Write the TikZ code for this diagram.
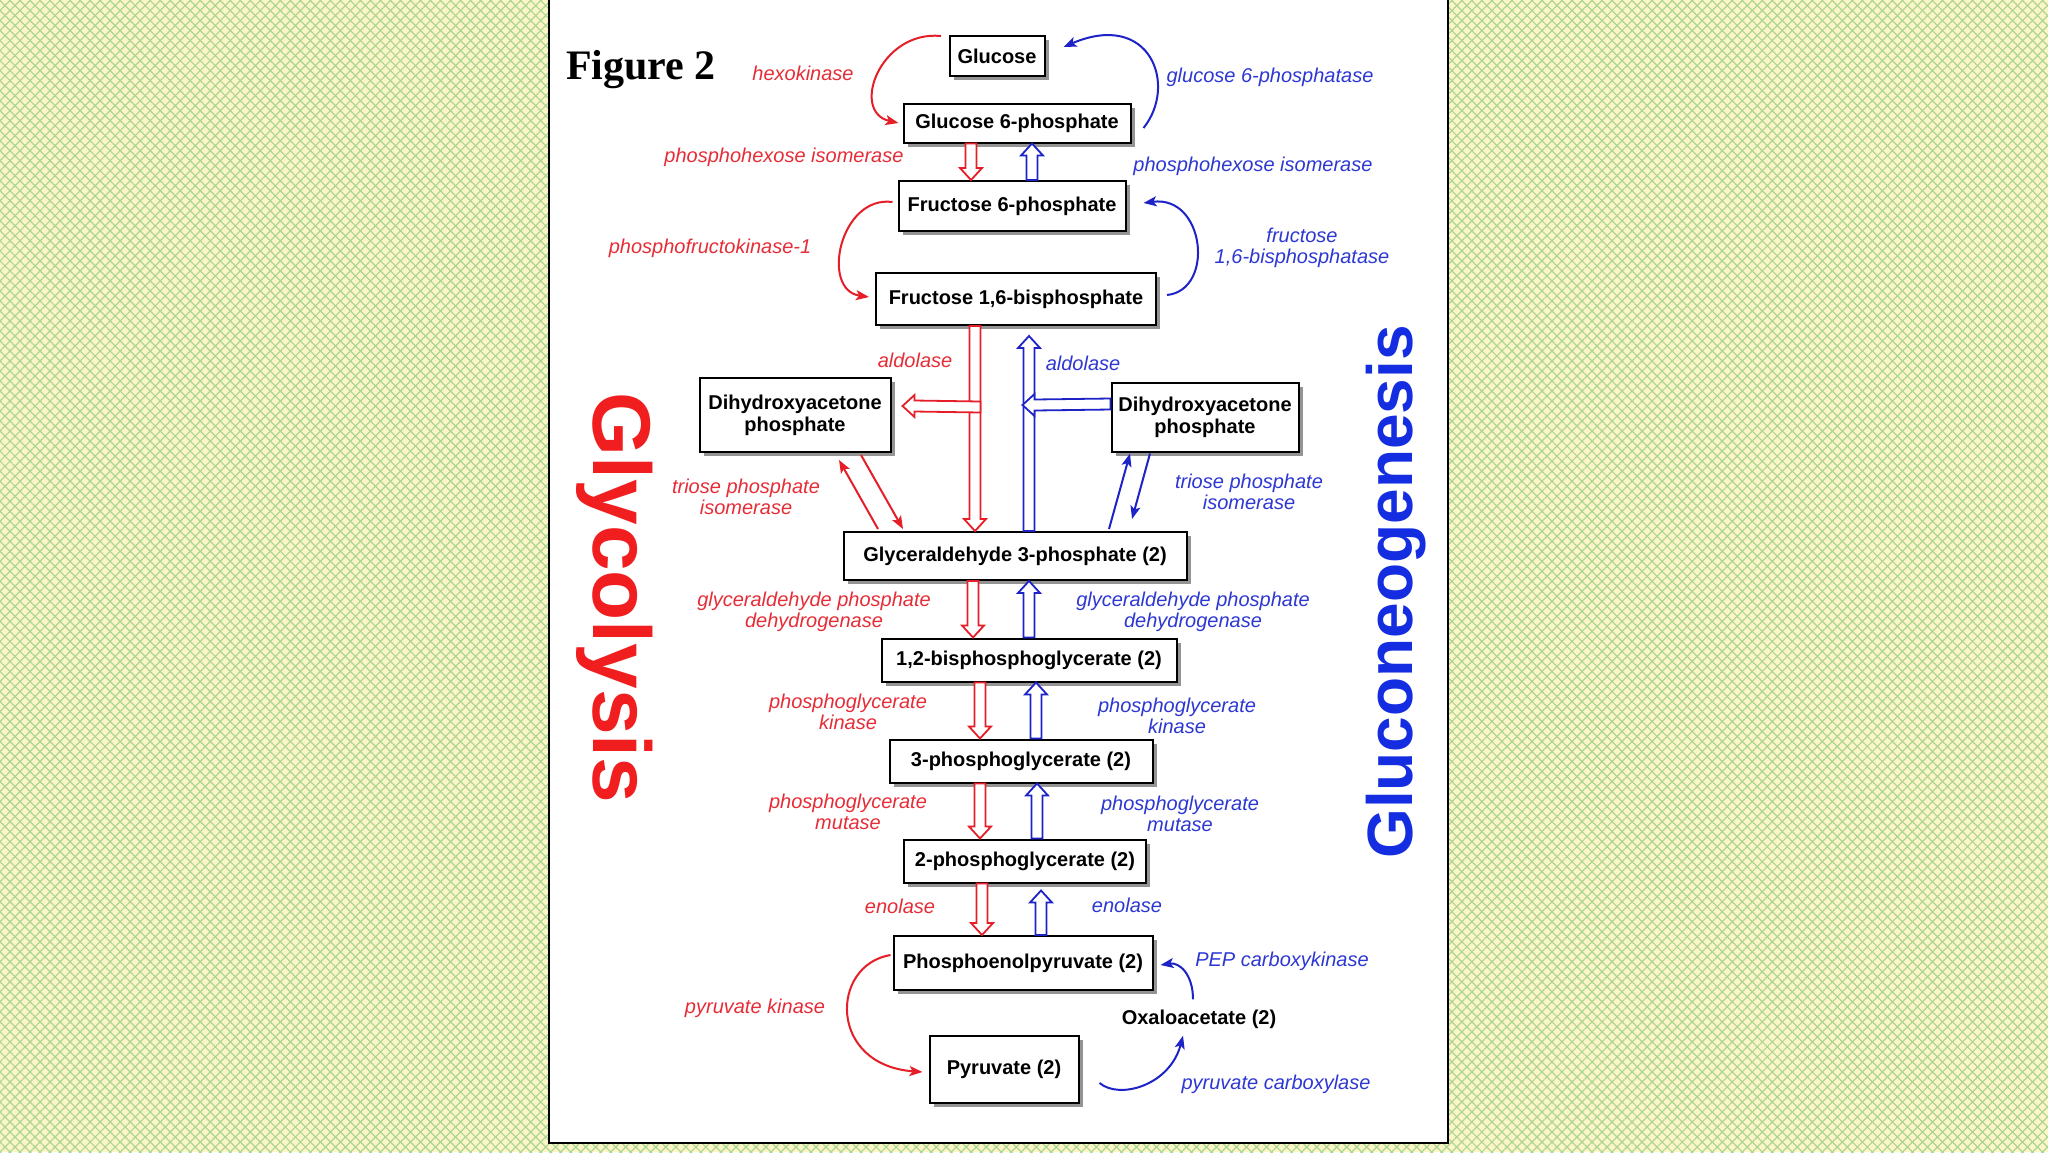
\documentclass[tikz,border=0pt]{standalone}
\usepackage{fontspec}
\setmainfont{Liberation Sans}
\newfontfamily\serifbold{Liberation Serif}
\usetikzlibrary{calc,arrows.meta,shadows,patterns.meta}
\definecolor{bgyel}{RGB}{252,245,202}
\definecolor{bggrn}{RGB}{172,214,142}
\definecolor{rd}{RGB}{230,30,40}
\definecolor{bl}{RGB}{30,35,200}
\definecolor{rdl}{RGB}{230,45,55}
\definecolor{bll}{RGB}{45,55,210}
\definecolor{bigred}{RGB}{240,30,30}
\definecolor{bigblue}{RGB}{20,45,225}
\begin{document}
\begin{tikzpicture}[x=0.5pt,y=-0.5pt,
  box/.style={draw=black, line width=1pt, fill=white,
    font=\bfseries\fontsize{10}{11}\selectfont, align=center, inner sep=2pt,
    general shadow={fill=black!42, shadow xshift=2.2pt, shadow yshift=-2.2pt}},
  lab/.style={font=\itshape\fontsize{10}{10.5}\selectfont, align=center, inner sep=0pt},
  rlab/.style={lab, text=rdl},
  blab/.style={lab, text=bll},
  thin/.style={line width=1pt, -{Stealth[length=6.5pt,width=5pt,inset=1.5pt]}},
  hollow/.style={line width=0.9pt, fill=white, line join=miter},
  hdown/.style={hollow, to path={($(\tikztostart)+(-5.5,0)$) -- ($(\tikztotarget)+(-5.5,-12)$) -- ($(\tikztotarget)+(-11,-12)$) -- (\tikztotarget) -- ($(\tikztotarget)+(11,-12)$) -- ($(\tikztotarget)+(5.5,-12)$) -- ($(\tikztostart)+(5.5,0)$) -- cycle}},
  hup/.style={hollow, to path={($(\tikztostart)+(-5.5,0)$) -- ($(\tikztotarget)+(-5.5,12)$) -- ($(\tikztotarget)+(-11,12)$) -- (\tikztotarget) -- ($(\tikztotarget)+(11,12)$) -- ($(\tikztotarget)+(5.5,12)$) -- ($(\tikztostart)+(5.5,0)$) -- cycle}},
  hleft/.style={hollow, to path={($(\tikztostart)+(0,-5.5)$) -- ($(\tikztotarget)+(12,-5.5)$) -- ($(\tikztotarget)+(12,-11)$) -- (\tikztotarget) -- ($(\tikztotarget)+(12,11)$) -- ($(\tikztotarget)+(12,5.5)$) -- ($(\tikztostart)+(0,5.5)$) -- cycle}}
]
\useasboundingbox (0,0) rectangle (2048,1152);
% background
\fill[bgyel] (0,0) rectangle (2048,1152);
\fill[pattern={Lines[angle=45,distance=3.54pt,line width=0.6pt]}, pattern color=bggrn] (0,0) rectangle (2048,1152);
\fill[pattern={Lines[angle=-45,distance=3.54pt,line width=0.6pt]}, pattern color=bggrn] (0,0) rectangle (2048,1152);
\draw[line width=1pt, fill=white] (549,-5) rectangle (1448,1143);

% title and big labels
\node[font=\serifbold\bfseries\fontsize{21}{24}\selectfont, anchor=base, inner sep=0pt] (fig) at (641,79) {Figure 2};
\node[font=\bfseries\fontsize{41}{44}\selectfont, text=bigred, rotate=-90, inner sep=0pt] (glyc) at (615,598) {Glycolysis};
\node[font=\bfseries\fontsize{32}{36}\selectfont, text=bigblue, rotate=90, inner sep=0pt] (gng) at (1396,592) {Gluconeogenesis};

% metabolites
\node[box, minimum width=47.5pt, minimum height=20pt] (glc) at (997,56) {Glucose};
\node[box, minimum width=113.5pt, minimum height=19.5pt] (g6p) at (1017,123) {Glucose 6-phosphate};
\node[box, minimum width=113.5pt, minimum height=25pt] (f6p) at (1012,206) {Fructose 6-phosphate};
\node[box, minimum width=140pt, minimum height=26pt] (f16bp) at (1016,299) {Fructose 1,6-bisphosphate};
\node[box, minimum width=95.5pt, minimum height=37pt] (dhapL) at (795,415) {Dihydroxyacetone\\phosphate};
\node[box, minimum width=93.5pt, minimum height=34.5pt] (dhapR) at (1205,417) {Dihydroxyacetone\\phosphate};
\node[box, minimum width=171.5pt, minimum height=24pt] (g3p) at (1015,556) {Glyceraldehyde 3-phosphate (2)};
\node[box, minimum width=147.5pt, minimum height=21.5pt] (bpg) at (1029,660) {1,2-bisphosphoglycerate (2)};
\node[box, minimum width=131.5pt, minimum height=21.5pt] (pg3) at (1021,761) {3-phosphoglycerate (2)};
\node[box, minimum width=121pt, minimum height=21.5pt] (pg2) at (1025,861) {2-phosphoglycerate (2)};
\node[box, minimum width=129.5pt, minimum height=27pt] (pep) at (1023,963) {Phosphoenolpyruvate (2)};
\node[box, minimum width=74.5pt, minimum height=33.5pt] (pyr) at (1004,1069) {Pyruvate (2)};
\node[font=\bfseries\fontsize{10}{11}\selectfont, inner sep=1pt] (oaa) at (1199,1019) {Oxaloacetate (2)};

% enzyme labels
\node[rlab] (l1) at (803,73) {hexokinase};
\node[blab] (l2) at (1270,77) {glucose 6-phosphatase};
\node[rlab] (l3) at (784,157) {phosphohexose isomerase};
\node[blab] (l4) at (1253,166) {phosphohexose isomerase};
\node[rlab] (l5) at (710,248) {phosphofructokinase-1};
\node[blab] (l6) at (1302,248) {fructose\\1,6-bisphosphatase};
\node[rlab] (l7) at (915,360) {aldolase};
\node[blab] (l8) at (1083,363) {aldolase};
\node[rlab] (l9) at (746,497) {triose phosphate\\isomerase};
\node[blab] (l10) at (1249,492) {triose phosphate\\isomerase};
\node[rlab] (l11) at (814,612) {glyceraldehyde phosphate\\dehydrogenase};
\node[blab] (l12) at (1193,612) {glyceraldehyde phosphate\\dehydrogenase};
\node[rlab] (l13) at (848,712) {phosphoglycerate\\kinase};
\node[blab] (l14) at (1177,716) {phosphoglycerate\\kinase};
\node[rlab] (l15) at (848,812) {phosphoglycerate\\mutase};
\node[blab] (l16) at (1180,814) {phosphoglycerate\\mutase};
\node[rlab] (l17) at (900,906) {enolase};
\node[blab] (l18) at (1127,905) {enolase};
\node[rlab] (l19) at (755,1008) {pyruvate kinase};
\node[blab] (l20) at (1282,961) {PEP carboxykinase};
\node[blab] (l21) at (1276,1084) {pyruvate carboxylase};

% curved thin arrows
\draw[rd, thin] ($(glc.north west)+(-7.5,1)$) .. controls (880,30) and (850,112) .. ($(g6p.west)+(-4,0)$);
\draw[bl, thin] ($(g6p.east)+(12,5)$) .. controls (1178,85) and (1150,10) .. ($(glc.east)+(18,-9)$);
\draw[rd, thin] ($(f6p.west)+(-5,-4)$) .. controls (840,195) and (820,290) .. ($(f16bp.west)+(-6,-2)$);
\draw[bl, thin] ($(f16bp.east)+(10,-4)$) .. controls (1215,290) and (1205,195) .. ($(f6p.east)+(17,-3)$);
\draw[rd, thin] ($(pep.west)+(-2,-8)$) .. controls (830,965) and (828,1065) .. ($(pyr.west)+(-6,3)$);
\draw[bl, thin] ($(pyr.east)+(20,14)$) .. controls (1120,1100) and (1170,1085) .. ($(oaa.south)+(-16,5)$);
\draw[bl, thin] ($(oaa.north)+(-6,-8)$) .. controls (1193,975) and (1180,962) .. ($(pep.east)+(7,2)$);

% triose phosphate isomerase
\draw[rd, thin] ($(g3p.north)+(-137,-2)$) -- ($(dhapL.south)+(44,7)$);
\draw[rd, thin] ($(dhapL.south)+(66,2)$) -- ($(g3p.north)+(-112,-2)$);
\draw[bl, thin] ($(g3p.north)+(94,-2)$) -- ($(dhapR.south)+(-75,1)$);
\draw[bl, thin] ($(dhapR.south)+(-55,1)$) -- ($(g3p.north)+(117,-12)$);

% hollow arrows
\draw[rd, hdown] ($(g6p.south)+(-46,0)$) to ($(f6p.north)+(-41,0)$);
\draw[bl, hup] ($(f6p.north)+(20,0)$) to ($(g6p.south)+(15,0)$);
\draw[rd, hdown] ($(f16bp.south)+(-41,0)$) to ($(g3p.north)+(-40,0)$);
\draw[rd, hleft] ($(f16bp.south)+(-35.5,81)$) to ($(dhapL.east)+(11,-9)$);
\draw[bl, hup] ($(g3p.north)+(14,0)$) to ($(f16bp.south)+(13,10)$);
\draw[bl, hleft] ($(dhapR.west)+(0,-13)$) to ($(f16bp.south)+(6.5,79)$);
\draw[rd, hdown] ($(g3p.south)+(-42,0)$) to ($(bpg.north)+(-56,0)$);
\draw[bl, hup] ($(bpg.north)+(0,0)$) to ($(g3p.south)+(14,0)$);
\draw[rd, hdown] ($(bpg.south)+(-49,0)$) to ($(pg3.north)+(-41,0)$);
\draw[bl, hup] ($(pg3.north)+(15,0)$) to ($(bpg.south)+(7,0)$);
\draw[rd, hdown] ($(pg3.south)+(-41,0)$) to ($(pg2.north)+(-45,0)$);
\draw[bl, hup] ($(pg2.north)+(12,0)$) to ($(pg3.south)+(16,0)$);
\draw[rd, hdown] ($(pg2.south)+(-43,0)$) to ($(pep.north)+(-41,0)$);
\draw[bl, hup] ($(pep.north)+(18,0)$) to ($(pg2.south)+(16,7)$);
\end{tikzpicture}
\end{document}
